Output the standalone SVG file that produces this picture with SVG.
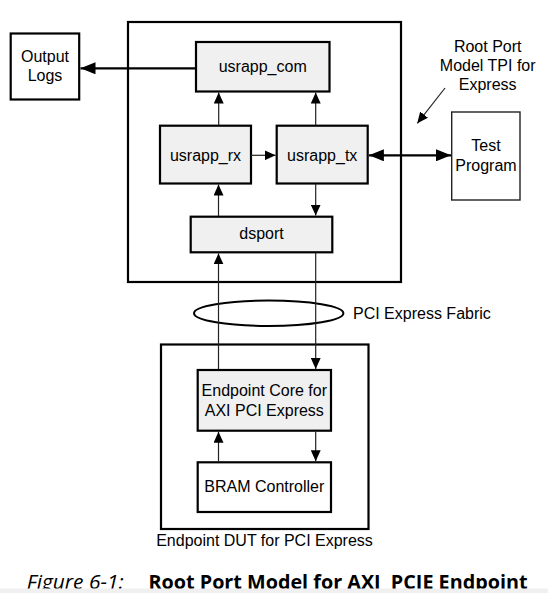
<svg xmlns="http://www.w3.org/2000/svg" width="548" height="593" viewBox="0 0 548 593">
<style>
  .box{stroke:#000;stroke-width:2.2;fill:#fff}
  .gray{fill:#f0f0f0}
  .t{font-family:"Liberation Sans",Arial,sans-serif;font-size:16px;fill:#000;text-anchor:middle}
  .c{stroke:#222;stroke-width:1.2;fill:none}
  .ct{stroke:#000;stroke-width:2.2;fill:none}
</style>
<defs>
  <marker id="a" markerUnits="userSpaceOnUse" markerWidth="12" markerHeight="10" refX="11" refY="5" orient="auto">
    <path d="M0,0 L11,5 L0,10 Z" fill="#000"/>
  </marker>
  <marker id="ab" markerUnits="userSpaceOnUse" markerWidth="16" markerHeight="12" refX="15" refY="6" orient="auto">
    <path d="M0,0 L15,6 L0,12 Z" fill="#000"/>
  </marker>
  <marker id="abs" markerUnits="userSpaceOnUse" markerWidth="16" markerHeight="12" refX="0" refY="6" orient="auto">
    <path d="M15,0 L0,6 L15,12 Z" fill="#000"/>
  </marker>
</defs>

<rect x="0" y="0" width="548" height="593" fill="#fff"/>

<g id="root-port-model"><rect class="box" x="128" y="22" width="273" height="260"/></g>
<g id="endpoint-dut">
  <rect class="box" x="161" y="344.5" width="207.5" height="184.5"/>
  <text class="t" x="264.5" y="546">Endpoint DUT for PCI Express</text>
</g>

<g id="output-logs">
  <rect class="box" x="10.7" y="33.5" width="68.5" height="66"/>
  <text class="t" x="45" y="62">Output</text>
  <text class="t" x="45" y="81">Logs</text>
</g>
<g id="usrapp-com">
  <rect class="box gray" x="196" y="42" width="133.5" height="49.5"/>
  <text class="t" x="262.7" y="72">usrapp_com</text>
</g>
<g id="usrapp-rx">
  <rect class="box gray" x="160" y="125.7" width="91" height="57.8"/>
  <text class="t" x="205.5" y="161">usrapp_rx</text>
</g>
<g id="usrapp-tx">
  <rect class="box gray" x="276.7" y="125.7" width="91" height="57.8"/>
  <text class="t" x="322.2" y="161">usrapp_tx</text>
</g>
<g id="test-program">
  <rect x="451.7" y="112" width="68.3" height="88" fill="#fff" stroke="#222" stroke-width="1.4"/>
  <text class="t" x="486" y="151">Test</text>
  <text class="t" x="486" y="171">Program</text>
</g>
<g id="tpi-label">
  <text class="t" x="487.7" y="52">Root Port</text>
  <text class="t" x="487.7" y="71">Model TPI for</text>
  <text class="t" x="487.7" y="90">Express</text>
</g>
<g id="dsport">
  <rect class="box gray" x="190.7" y="216.7" width="141.6" height="35.6"/>
  <text class="t" x="261.5" y="239">dsport</text>
</g>
<g id="pcie-fabric">
  <ellipse cx="268.7" cy="313.3" rx="74.7" ry="12.7" fill="none" stroke="#000" stroke-width="2"/>
  <text class="t" x="353" y="319" style="text-anchor:start">PCI Express Fabric</text>
</g>
<g id="endpoint-core">
  <rect class="box gray" x="197.7" y="370" width="133.3" height="60.7"/>
  <text class="t" x="264.3" y="396">Endpoint Core for</text>
  <text class="t" x="264.3" y="415.5">AXI PCI Express</text>
</g>
<g id="bram-controller">
  <rect class="box" x="197.7" y="462.3" width="133.3" height="49.7"/>
  <text class="t" x="264.3" y="492">BRAM Controller</text>
</g>

<g id="connectors">
  <line class="ct" x1="196" y1="68.3" x2="80.5" y2="68.3" marker-end="url(#ab)"/>
  <line class="c" x1="218.7" y1="125" x2="218.7" y2="92.6" marker-end="url(#a)"/>
  <line class="c" x1="315.7" y1="125" x2="315.7" y2="92.6" marker-end="url(#a)"/>
  <line class="c" x1="251" y1="155.3" x2="275.6" y2="155.3" marker-end="url(#a)"/>
  <line class="ct" x1="368.9" y1="155.3" x2="451" y2="155.3" marker-start="url(#abs)" marker-end="url(#ab)"/>
  <line class="c" x1="218.5" y1="216" x2="218.5" y2="184.6" marker-end="url(#a)"/>
  <line class="c" x1="315.7" y1="184" x2="315.7" y2="215.6" marker-end="url(#a)"/>
  <line class="c" x1="218.5" y1="369" x2="218.5" y2="253.4" marker-end="url(#a)"/>
  <line class="c" x1="315.7" y1="253" x2="315.7" y2="368.9" marker-end="url(#a)"/>
  <line class="c" x1="218.5" y1="461.5" x2="218.5" y2="431.8" marker-end="url(#a)"/>
  <line class="c" x1="315.7" y1="431.5" x2="315.7" y2="461.2" marker-end="url(#a)"/>
  <line class="c" x1="445" y1="88" x2="417.3" y2="123.3" marker-end="url(#a)"/>
</g>

<g id="caption">
  <text x="26.7" y="588.5" font-family="'Open Sans',sans-serif" font-size="19.5" font-style="italic" fill="#000" textLength="97" lengthAdjust="spacingAndGlyphs">Figure 6-1:</text>
  <text x="148.5" y="588.5" font-family="'Open Sans',sans-serif" font-size="19.5" font-weight="bold" fill="#000" textLength="379" lengthAdjust="spacingAndGlyphs" xml:space="preserve">Root Port Model for AXI  PCIE Endpoint</text>
</g>
<rect x="0" y="588.5" width="548" height="4.5" fill="#f0f0f0"/>
</svg>
